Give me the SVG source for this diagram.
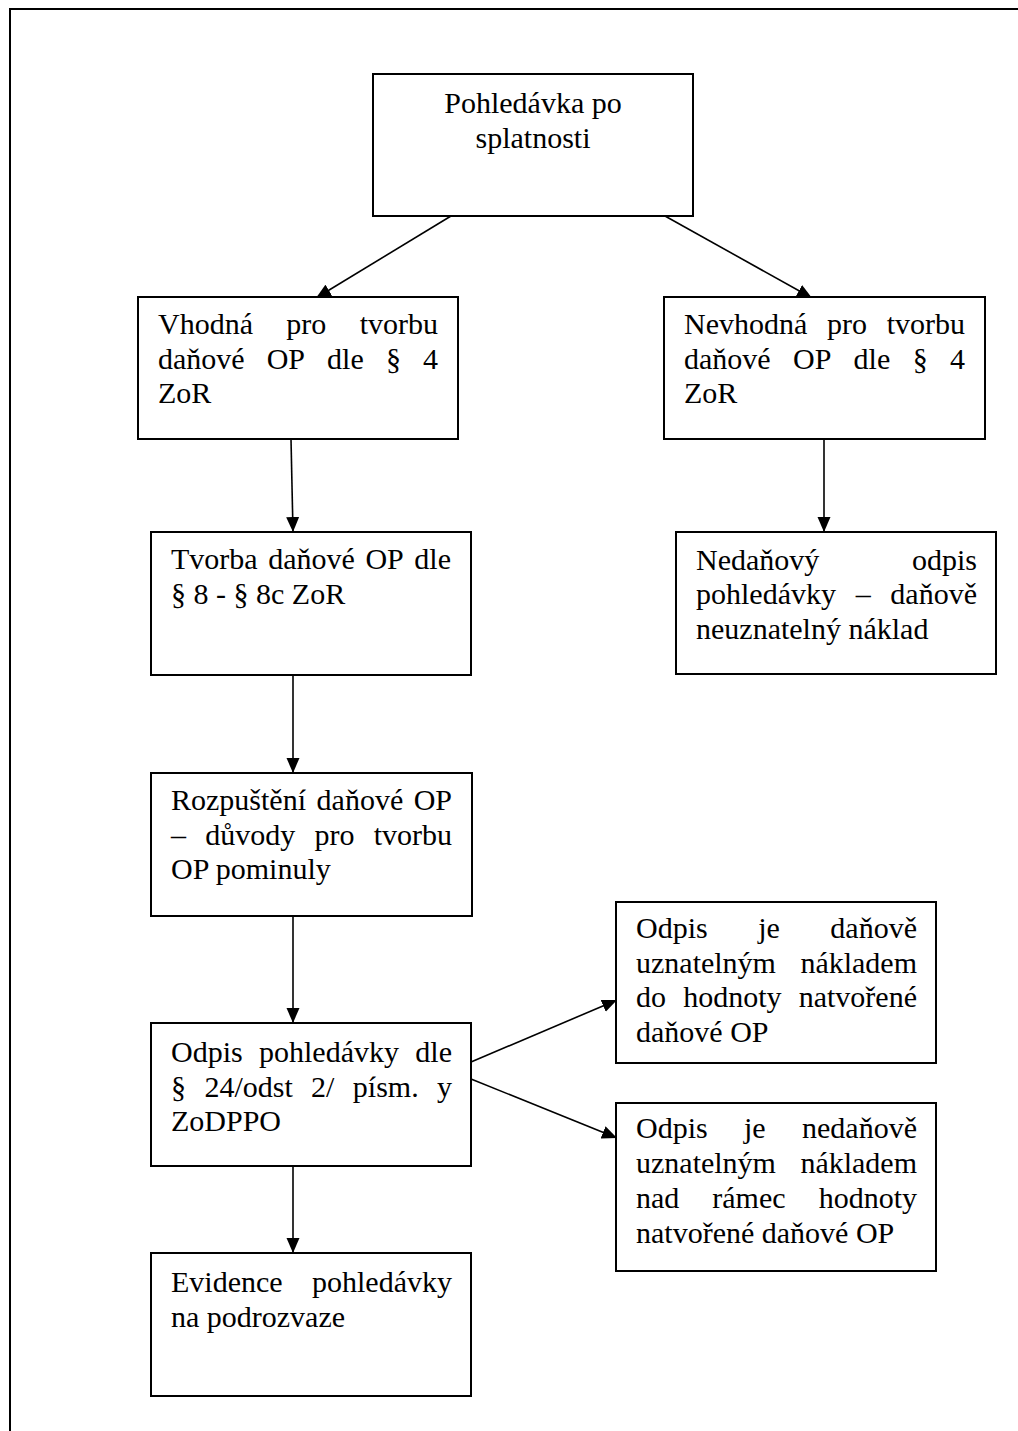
<svg xmlns="http://www.w3.org/2000/svg" width="1018" height="1431" viewBox="0 0 1018 1431">
<style>
  .box { fill: #ffffff; stroke: #000000; stroke-width: 2; }
  .t { font-family: "Liberation Serif", "Times New Roman", serif; font-size: 30px; fill: #000000; }
  .e { text-anchor: end; }
  .c { text-anchor: middle; }
  .conn { stroke: #000000; stroke-width: 1.6; fill: none; marker-end: url(#arrow); }
  .frame { stroke: #000000; stroke-width: 2; fill: none; }
</style>
<defs>
  <marker id="arrow" markerUnits="userSpaceOnUse" markerWidth="16" markerHeight="14" refX="15" refY="7" orient="auto">
    <path d="M0,0.5 L15,7 L0,13.5 Z" fill="#000000"/>
  </marker>
</defs>
<rect width="1018" height="1431" fill="#ffffff"/>
<path class="frame" d="M10,1431 L10,9 L1018,9"/>

<g id="connectors">
  <line class="conn" x1="451" y1="216" x2="316" y2="298"/>
  <line class="conn" x1="665" y1="216" x2="812" y2="298"/>
  <line class="conn" x1="291" y1="439" x2="293" y2="532"/>
  <line class="conn" x1="824" y1="439" x2="824" y2="532"/>
  <line class="conn" x1="293" y1="675" x2="293" y2="773"/>
  <line class="conn" x1="293" y1="916" x2="293" y2="1023"/>
  <line class="conn" x1="471" y1="1062" x2="617" y2="1000"/>
  <line class="conn" x1="471" y1="1079" x2="617" y2="1138"/>
  <line class="conn" x1="293" y1="1166" x2="293" y2="1253"/>
</g>

<g id="n-pohledavka">
  <rect class="box" x="373" y="74" width="320" height="142"/>
  <text class="t c" x="533" y="113">Pohledávka po</text>
  <text class="t c" x="533" y="147.5">splatnosti</text>
</g>

<g id="n-vhodna">
  <rect class="box" x="138" y="297" width="320" height="142"/>
  <text class="t" x="158" y="334">Vhodná</text>
  <text class="t" x="286.3" y="334">pro</text>
  <text class="t e" x="438" y="334">tvorbu</text>
  <text class="t" x="158" y="368.5">daňové</text>
  <text class="t" x="266.7" y="368.5">OP</text>
  <text class="t" x="327.1" y="368.5">dle</text>
  <text class="t" x="385.9" y="368.5">§</text>
  <text class="t e" x="438" y="368.5">4</text>
  <text class="t" x="158" y="403">ZoR</text>
</g>

<g id="n-nevhodna">
  <rect class="box" x="664" y="297" width="321" height="142"/>
  <text class="t" x="684" y="334">Nevhodná</text>
  <text class="t" x="827" y="334">pro</text>
  <text class="t e" x="965" y="334">tvorbu</text>
  <text class="t" x="684" y="368.5">daňové</text>
  <text class="t" x="793" y="368.5">OP</text>
  <text class="t" x="853.6" y="368.5">dle</text>
  <text class="t" x="912.7" y="368.5">§</text>
  <text class="t e" x="965" y="368.5">4</text>
  <text class="t" x="684" y="403">ZoR</text>
</g>

<g id="n-tvorba">
  <rect class="box" x="151" y="532" width="320" height="143"/>
  <text class="t" x="171" y="569">Tvorba</text>
  <text class="t" x="268.2" y="569">daňové</text>
  <text class="t" x="365.4" y="569">OP</text>
  <text class="t e" x="451" y="569">dle</text>
  <text class="t" x="171" y="603.5">§ 8 - § 8c ZoR</text>
</g>

<g id="n-nedanovy">
  <rect class="box" x="676" y="532" width="320" height="142"/>
  <text class="t" x="696" y="569.5">Nedaňový</text>
  <text class="t e" x="977" y="569.5">odpis</text>
  <text class="t" x="696" y="604">pohledávky</text>
  <text class="t" x="855.7" y="604">–</text>
  <text class="t e" x="977" y="604">daňově</text>
  <text class="t" x="696" y="638.5">neuznatelný náklad</text>
</g>

<g id="n-rozpusteni">
  <rect class="box" x="151" y="773" width="321" height="143"/>
  <text class="t" x="171" y="810">Rozpuštění</text>
  <text class="t" x="316.6" y="810">daňové</text>
  <text class="t e" x="452" y="810">OP</text>
  <text class="t" x="171" y="844.5">–</text>
  <text class="t" x="205.2" y="844.5">důvody</text>
  <text class="t" x="314.4" y="844.5">pro</text>
  <text class="t e" x="452" y="844.5">tvorbu</text>
  <text class="t" x="171" y="879">OP pominuly</text>
</g>

<g id="n-odpis">
  <rect class="box" x="151" y="1023" width="320" height="143"/>
  <text class="t" x="171" y="1062">Odpis</text>
  <text class="t" x="259" y="1062">pohledávky</text>
  <text class="t e" x="452" y="1062">dle</text>
  <text class="t" x="171" y="1096.5">§</text>
  <text class="t" x="204.4" y="1096.5">24/odst</text>
  <text class="t" x="311.1" y="1096.5">2/</text>
  <text class="t" x="352.8" y="1096.5">písm.</text>
  <text class="t e" x="452" y="1096.5">y</text>
  <text class="t" x="171" y="1131">ZoDPPO</text>
</g>

<g id="n-evidence">
  <rect class="box" x="151" y="1253" width="320" height="143"/>
  <text class="t" x="171" y="1292">Evidence</text>
  <text class="t e" x="452" y="1292">pohledávky</text>
  <text class="t" x="171" y="1326.5">na podrozvaze</text>
</g>

<g id="n-danove-uznatelny">
  <rect class="box" x="616" y="902" width="320" height="161"/>
  <text class="t" x="636" y="938">Odpis</text>
  <text class="t" x="758.2" y="938">je</text>
  <text class="t e" x="917" y="938">daňově</text>
  <text class="t" x="636" y="972.5">uznatelným</text>
  <text class="t e" x="917" y="972.5">nákladem</text>
  <text class="t" x="636" y="1007">do</text>
  <text class="t" x="683.2" y="1007">hodnoty</text>
  <text class="t e" x="917" y="1007">natvořené</text>
  <text class="t" x="636" y="1041.5">daňové OP</text>
</g>

<g id="n-nedanove-uznatelny">
  <rect class="box" x="616" y="1103" width="320" height="168"/>
  <text class="t" x="636" y="1138">Odpis</text>
  <text class="t" x="744" y="1138">je</text>
  <text class="t e" x="917" y="1138">nedaňově</text>
  <text class="t" x="636" y="1173">uznatelným</text>
  <text class="t e" x="917" y="1173">nákladem</text>
  <text class="t" x="636" y="1208">nad</text>
  <text class="t" x="712.3" y="1208">rámec</text>
  <text class="t e" x="917" y="1208">hodnoty</text>
  <text class="t" x="636" y="1243">natvořené daňové OP</text>
</g>
</svg>
